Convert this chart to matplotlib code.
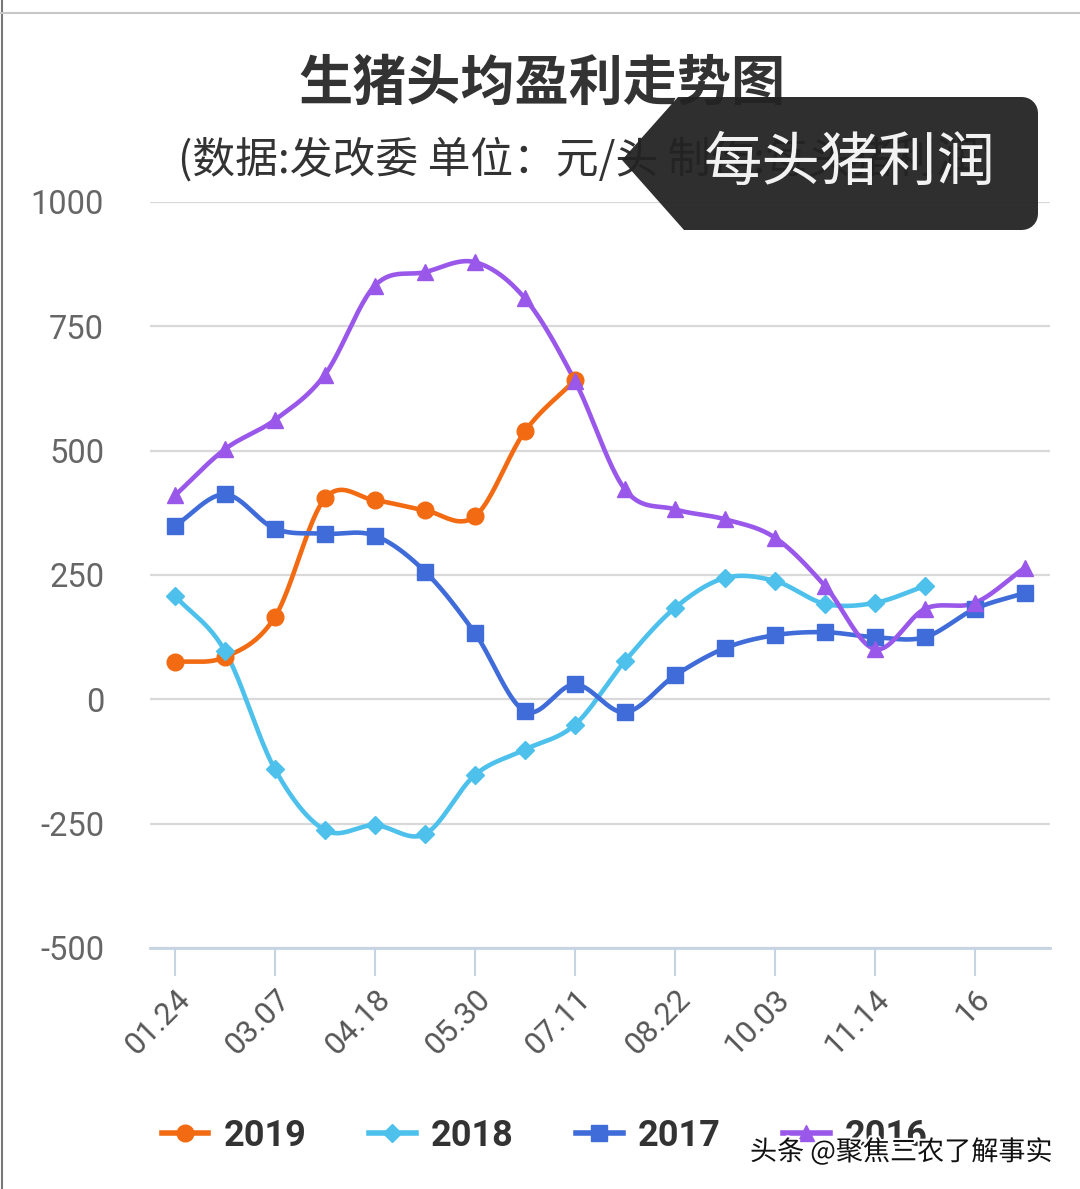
import numpy as np
import matplotlib.pyplot as plt
from matplotlib.lines import Line2D
from matplotlib.patches import Polygon
import matplotlib.patheffects as pe

plt.rcParams['font.family'] = ['Noto Sans CJK SC', 'DejaVu Sans']
plt.rcParams['axes.unicode_minus'] = False

W, H = 1080, 1189

tick_labels = ["01.24", "03.07", "04.18", "05.30", "07.11", "08.22", "10.03", "11.14", "16"]

y2019 = [75, 85, 166, 404, 400, 380, 368, 539, 642]
y2018 = [208, 97, -141, -263, -253, -271, -152, -101, -51, 77, 184, 244, 238, 192, 194, 228]
y2017 = [349, 412, 343, 333, 329, 257, 133, -24, 30, -26, 48, 103, 129, 135, 125, 125, 182, 214]
y2016 = [410, 503, 562, 653, 832, 859, 879, 806, 640, 422, 382, 362, 325, 228, 101, 182, 194, 265]

series = [
    ("2019", y2019, "#f26b12", "o", 12),
    ("2018", y2018, "#4dc1ec", "D", 9),
    ("2017", y2017, "#3f6cd9", "s", 11),
    ("2016", y2016, "#9a58ea", "^", 11),
]


def smooth(y, n=24):
    """Catmull-Rom style spline through equally spaced points."""
    y = np.asarray(y, dtype=float)
    k = len(y)
    m = np.zeros(k)
    m[1:-1] = (y[2:] - y[:-2]) / 2
    m[0] = y[1] - y[0]
    m[-1] = y[-1] - y[-2]
    xs, ys = [], []
    t = np.linspace(0, 1, n, endpoint=False)
    for i in range(k - 1):
        h00 = 2 * t**3 - 3 * t**2 + 1
        h10 = t**3 - 2 * t**2 + t
        h01 = -2 * t**3 + 3 * t**2
        h11 = t**3 - t**2
        xs.append(i + t)
        ys.append(h00 * y[i] + h10 * m[i] + h01 * y[i + 1] + h11 * m[i + 1])
    xs.append([k - 1])
    ys.append([y[-1]])
    return np.concatenate(xs), np.concatenate(ys)


def fx(px):
    return px / W


def fy(py):
    return 1 - py / H


fig = plt.figure(figsize=(W / 100, H / 100), dpi=100)
ax = fig.add_axes([fx(150), fy(948), (1050 - 150) / W, (948 - 202) / H])

for label, vals, color, marker, ms in series:
    sx, sy = smooth(vals)
    ax.plot(sx, sy, color=color, lw=3.3, solid_capstyle='round', zorder=3)
    ax.plot(np.arange(len(vals)), vals, ls='none', marker=marker, ms=ms,
            color=color, zorder=4)

ax.set_xlim(-0.5, 17.5)
ax.set_ylim(-500, 1000)
ax.set_yticks([-500, -250, 0, 250, 500, 750, 1000])
ax.grid(axis='y', color='#d9d9d9', lw=1.6)
ax.set_axisbelow(True)
for s in ["top", "right", "left"]:
    ax.spines[s].set_visible(False)
ax.spines["bottom"].set_color('#c5d3e3')
ax.spines["bottom"].set_linewidth(2)
ax.spines["bottom"].set_zorder(2)

ax.set_xticks(np.arange(0, 17, 2))
ax.set_xticklabels(tick_labels, rotation=45, ha='right', va='top',
                   rotation_mode='anchor', fontsize=22.5, color='#555555',
                   family=['Roboto', 'DejaVu Sans'])
ax.tick_params(axis='x', length=20, width=1.5, color='#c5d3e3', pad=6)
ax.tick_params(axis='y', length=0, pad=33, labelsize=23.5, labelcolor='#666666')
for t in ax.get_yticklabels():
    t.set_family(['Roboto', 'DejaVu Sans'])

# title and subtitle
fig.text(fx(542), fy(84), "生猪头均盈利走势图", ha='center', va='center',
         fontsize=39, fontweight='bold', color='#333333')
fig.text(fx(178), fy(160), "(数据:发改委 单位：元/头 制作:每头猪利润)", ha='left', va='center',
         fontsize=30.8, color='#333333')

# translucent overlay label with a pointed left side and rounded right corners
r = 16
a = np.linspace(0, np.pi / 2, 8)
top_right = [(1038 - r + r * np.sin(v), 97 + r - r * np.cos(v)) for v in a]
bot_right = [(1038 - r + r * np.cos(v), 230 - r + r * np.sin(v)) for v in a]
box = [(678, 97)] + top_right + bot_right + [(684, 230), (622, 160)]
fig.patches.append(Polygon([(fx(x), fy(y)) for x, y in box], closed=True,
                           transform=fig.transFigure, facecolor='#222222',
                           edgecolor='none', alpha=0.94, zorder=10))
fig.text(fx(850), fy(163), "每头猪利润", ha='center', va='center', fontsize=42,
         color='#f2f2f2', zorder=11)

# frame lines of the screenshot
fig.add_artist(Line2D([fx(2), fx(2)], [0, 1], color='#777777', lw=1.5))
fig.add_artist(Line2D([0, 1], [fy(13), fy(13)], color='#c8c8c8', lw=1.5))

# legend
handles = [Line2D([0], [0], color=c, lw=4, marker=m, ms=ms)
           for _, _, c, m, ms in series]
leg = fig.legend(handles, [s[0] for s in series], loc='center left',
                 bbox_to_anchor=(fx(129), fy(1136)), ncol=4, frameon=False,
                 handlelength=1.3, handletextpad=0.42, columnspacing=1.72,
                 prop={'family': ['Roboto', 'DejaVu Sans'], 'weight': 'bold', 'size': 26})
for t in leg.get_texts():
    t.set_color('#333333')

# watermark
fig.text(fx(750), fy(1152), "头条 @聚焦三农了解事实", ha='left', va='center',
         fontsize=19.5, color='#111111', zorder=12,
         path_effects=[pe.withStroke(linewidth=3, foreground='white')])

fig.savefig("out.png", dpi=100, facecolor='white')
